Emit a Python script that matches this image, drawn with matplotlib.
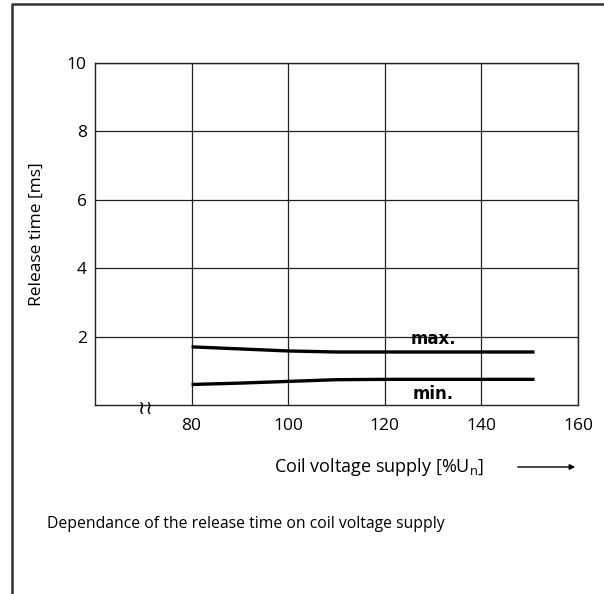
import numpy as np
import matplotlib.pyplot as plt

# curve data
volt = [80, 90, 100, 110, 120, 130, 140, 151]
t_max = [1.70, 1.64, 1.58, 1.55, 1.55, 1.55, 1.55, 1.55]
t_min = [0.60, 0.64, 0.69, 0.74, 0.75, 0.75, 0.75, 0.75]

x_ticks = [80, 100, 120, 140, 160]
y_ticks = [2, 4, 6, 8, 10]

plt.rcParams['font.family'] = ['Open Sans', 'DejaVu Sans']

fig = plt.figure(figsize=(6.04, 5.94), dpi=100)
ax = fig.add_axes([95/604, 1-405/594, 483/604, 342/594])

ax.plot(volt, t_max, color='black', lw=2.4, solid_capstyle='butt')
ax.plot(volt, t_min, color='black', lw=2.4, solid_capstyle='butt')

ax.text(130, 1.93, 'max.', fontsize=12, fontweight='bold', ha='center', va='center',
        family='DejaVu Sans')
ax.text(130, 0.33, 'min.', fontsize=12, fontweight='bold', ha='center', va='center',
        family='DejaVu Sans')

ax.set_xlim(60, 160)
ax.set_ylim(0, 10)
ax.set_xticks(x_ticks)
ax.set_yticks(y_ticks)
ax.tick_params(length=0, labelsize=12.5)
ax.tick_params(axis='x', pad=9)
ax.tick_params(axis='y', pad=6)
ax.grid(True, color='#222222', lw=0.9)
for s in ax.spines.values():
    s.set_linewidth(1.0)
    s.set_color('#222222')

# axis break mark
ax.text(70.4, -0.1, '\u2240\u2240', fontsize=14, ha='center', va='center',
        family='DejaVu Sans', clip_on=False)

ax.set_ylabel('Release time [ms]', fontsize=12.5, labelpad=16)
fig.text(379/604, 1-467/594, 'Coil voltage supply [%U$_\\mathregular{n}$]', fontsize=13,
         ha='center', va='center')
fig.add_artist(plt.matplotlib.patches.FancyArrowPatch(
    (515/604, 1-467/594), (578/604, 1-467/594), transform=fig.transFigure,
    arrowstyle='-|>', mutation_scale=8, color='black', lw=1.0))

fig.text(47/604, 1-524/594, 'Dependance of the release time on coil voltage supply',
         fontsize=11.3, ha='left', va='center')

# outer frame (top and left edges)
fig.add_artist(plt.Line2D([12/604, 12/604, 1], [0, 1-4/594, 1-4/594],
                          transform=fig.transFigure, color='#333333', lw=1.8))

fig.savefig('out.png', dpi=100)
